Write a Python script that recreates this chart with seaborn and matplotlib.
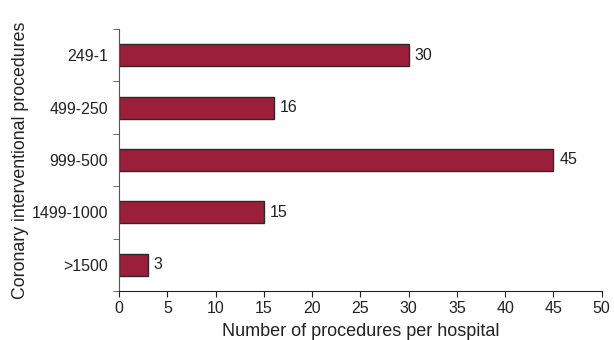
"""Coronary interventional procedures per hospital — horizontal bar chart."""

import matplotlib
matplotlib.use("Agg")
import matplotlib.pyplot as plt
import numpy as np
import pandas as pd
import seaborn as sns

categories = ["249-1", "499-250", "999-500", "1499-1000", ">1500"]
hospitals = [30, 16, 45, 15, 3]
x_ticks = [0, 5, 10, 15, 20, 25, 30, 35, 40, 45, 50]

BAR_COLOR = "#9B1F38"

sns.set_style("ticks")
plt.rcParams["font.family"] = ["Liberation Sans", "DejaVu Sans"]

df = pd.DataFrame({"range": categories, "count": hospitals})

fig = plt.figure(figsize=(6.14, 3.4), dpi=100)
ax = fig.add_axes([0.194, 0.144, 0.786, 0.771])

sns.barplot(data=df, x="count", y="range", order=categories, orient="h",
            color=BAR_COLOR, width=0.42, edgecolor="#2a2a2a", linewidth=1.0,
            saturation=1, ax=ax)

for patch, val in zip(ax.patches, hospitals):
    y = patch.get_y() + patch.get_height() / 2
    ax.text(patch.get_width() + 0.6, y, f"{val}", va="center", ha="left",
            fontsize=11.5, color="#222222")

ax.set_xlim(0, 50)
ax.set_ylim(len(categories) - 0.5, -0.5)
ax.set_xticks(x_ticks)
ax.tick_params(axis="x", labelsize=11.5, length=4, pad=3, colors="#222222")

# labels at bar centres, tick marks at band boundaries
ax.set_yticks(np.arange(len(categories)))
ax.set_yticklabels(categories)
ax.set_yticks(np.arange(len(categories) + 1) - 0.5, minor=True)
ax.tick_params(axis="y", which="major", length=0, labelsize=11.5, pad=8,
               colors="#222222")
ax.tick_params(axis="y", which="minor", length=4, color="#555555")

ax.set_xlabel("Number of procedures per hospital", fontsize=13, labelpad=5,
              color="#222222")
ax.set_ylabel("Coronary interventional procedures", fontsize=12.8, labelpad=2,
              color="#222222")

sns.despine(ax=ax)
ax.spines["left"].set_color("#555555")
ax.spines["bottom"].set_color("#222222")

fig.savefig("out.png", dpi=100)
plt.close(fig)
